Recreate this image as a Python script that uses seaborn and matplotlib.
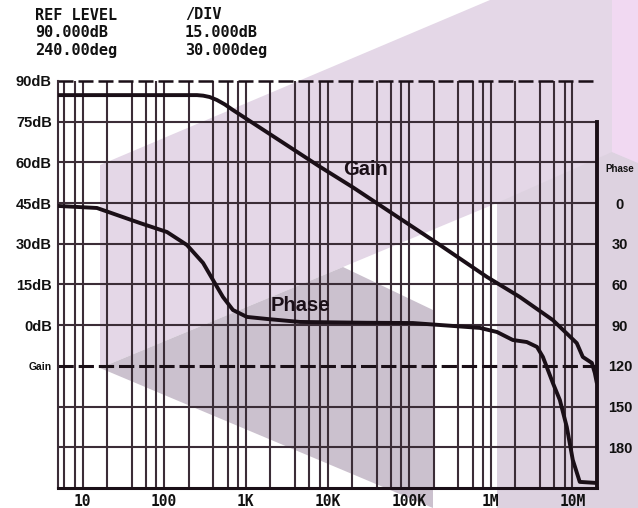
import numpy as np
import pandas as pd
import matplotlib
matplotlib.use('Agg')
import matplotlib.pyplot as plt
from matplotlib.patches import Polygon
from matplotlib.ticker import FixedLocator, FixedFormatter, NullFormatter
import seaborn as sns

sns.set_theme(style="white")
plt.rcParams['font.family'] = ['Liberation Sans', 'DejaVu Sans']

# values
gain_freq = [5, 252, 300, 360, 442, 550, 695, 8070, 20500, 219000, 896000,
             2.27e6, 5.75e6, 11.3e6, 13.4e6, 17.3e6, 18.8e6, 19.9e6]
gain_db = [84.8, 84.8, 84.6, 84.1, 83.0, 81.4, 79.3, 58.4, 50.8, 30.3, 17.8,
           10.4, 1.9, -6.6, -11.7, -13.9, -17.6, -21.3]

phase_freq = [5, 15, 50.5, 108, 190, 299, 396, 524, 695, 1030, 1810, 4590,
              30000, 111000, 735000, 1.19e6, 1.86e6, 2.76e6, 3.68e6, 4.35e6,
              5.76e6, 7.01e6, 8.53e6, 10.1e6, 12.3e6, 19.9e6]
phase_deg = [2.1, 3.6, 14.7, 21.3, 30.9, 44.1, 56.7, 69.2, 78.8, 83.9, 85.4, 87.6,
             88.2, 88.4, 92.0, 95.0, 100.9, 102.4, 106.0, 113.4,
             132.6, 145.1, 165.0, 189.3, 205.5, 206.3]

db_levels = [-60, -45, -30, -15, 0, 15, 30, 45, 60, 75, 90]
db_labels = ['', '', '', 'Gain', '0dB', '15dB', '30dB', '45dB', '60dB', '75dB', '90dB']
phase_ticks = [0, 30, 60, 90, 120, 150, 180]
freq_ticks = [10, 100, 1e3, 1e4, 1e5, 1e6, 1e7]
freq_labels = ['10', '100', '1K', '10K', '100K', '1M', '10M']
minor_freqs = [m * 10.0 ** e for e in range(0, 8) for m in (2, 4, 6, 8)]

header = [('REF LEVEL', '/DIV'), ('90.000dB', '15.000dB'), ('240.00deg', '30.000deg')]

W, H = 638, 508
ink = '#1a0f17'
grid_c = '#3b2d37'

fig = plt.figure(figsize=(W / 100, H / 100), dpi=100)
fig.patch.set_facecolor('white')


def px(pts):
    return [(x / W, 1 - y / H) for x, y in pts]


# watermark behind the chart
shapes = [
    ([(100, 165), (490, 0), (638, 0), (638, 508), (497, 508), (497, 203), (343, 267), (100, 368)], '#e4d7e7'),
    ([(497, 203), (612, 152), (638, 163), (638, 508), (497, 508)], '#ddd2e0'),
    ([(612, 0), (638, 0), (638, 163), (612, 152)], '#f1d9f2'),
    ([(100, 368), (343, 267), (433, 310), (433, 508)], '#cbc1ce'),
]
for pts, col in shapes:
    fig.patches.append(Polygon(px(pts), closed=True, facecolor=col, edgecolor='none',
                               transform=fig.transFigure, zorder=-10))

ax = fig.add_axes([58 / W, 1 - 488 / H, 539 / W, 407 / H])
ax.patch.set_alpha(0)
ax.set_xscale('log')
ax.set_xlim(5, 2e7)
ax.set_ylim(-60, 90)

# grid
ax.xaxis.set_major_locator(FixedLocator(freq_ticks))
ax.xaxis.set_major_formatter(FixedFormatter(freq_labels))
ax.xaxis.set_minor_locator(FixedLocator([f for f in minor_freqs if 5 < f < 2e7]))
ax.xaxis.set_minor_formatter(NullFormatter())
ax.grid(axis='x', which='both', color=grid_c, lw=1.5)
for lv in db_levels:
    if lv in (-60, -15, 90):
        continue
    ax.axhline(lv, color=grid_c, lw=1.5, zorder=1)
ax.axhline(-15, color=ink, lw=2.2, dashes=(5, 1.6), zorder=2)
ax.axhline(90, color=ink, lw=1.8, dashes=(6, 2), zorder=2, clip_on=False)

ax.spines['top'].set_visible(False)
ax.spines['left'].set_color(grid_c)
ax.spines['left'].set_linewidth(1.5)
ax.spines['bottom'].set_color(ink)
ax.spines['bottom'].set_linewidth(2.2)
ax.spines['right'].set_color(ink)
ax.spines['right'].set_linewidth(2.8)
ax.spines['right'].set_bounds(-60, 75)

ax.set_yticks(db_levels)
ax.set_yticklabels(db_labels)
ax.tick_params(axis='y', length=0, pad=4.5)
ax.tick_params(axis='x', which='major', direction='out', length=3, width=1.5,
               color=ink, pad=1.5)
ax.tick_params(axis='x', which='minor', length=0)
for t in ax.get_yticklabels():
    t.set_fontweight('bold')
    t.set_fontsize(7.5 if t.get_text() == 'Gain' else 10.5)
    t.set_color('#111111')
for t in ax.get_xticklabels():
    t.set_fontfamily('DejaVu Sans Mono')
    t.set_fontweight('bold')
    t.set_fontsize(10.5)
    t.set_color('#111111')

sns.lineplot(x=gain_freq, y=gain_db, ax=ax, color=ink, lw=2.8, zorder=5)
ax.text(29600, 57.2, 'Gain', ha='center', va='center', fontsize=14.5,
        fontweight='bold', color=ink)
ax.text(4600, 7.4, 'Phase', ha='center', va='center', fontsize=14.5,
        fontweight='bold', color=ink)

ax2 = ax.twinx()
ax2.patch.set_alpha(0)
for s in ax2.spines.values():
    s.set_visible(False)
ax2.set_ylim(210, -90)
ax2.set_yticks(phase_ticks)
ax2.set_yticklabels([str(p) for p in phase_ticks])
ax2.tick_params(axis='y', length=0, pad=16.5)
for t in ax2.get_yticklabels():
    t.set_fontweight('bold')
    t.set_fontsize(10.5)
    t.set_ha('center')
    t.set_color('#111111')
ax2.grid(False)
sns.lineplot(x=phase_freq, y=phase_deg, ax=ax2, color=ink, lw=2.8, zorder=5)
ax2.text(1.043, -25, 'Phase', transform=ax2.get_yaxis_transform(), ha='center',
         va='center', fontsize=7, fontweight='bold', color='#111111')
ax2.set_ylabel('')
ax.set_xlabel('')

# instrument header
for i, (left, right) in enumerate(header):
    y = 1 - (15 + 17.5 * i) / H
    fig.text(35 / W, y, left, ha='left', va='center', fontsize=11,
             fontfamily='DejaVu Sans Mono', fontweight='bold', color='#111111')
    fig.text(185 / W, y, right, ha='left', va='center', fontsize=11,
             fontfamily='DejaVu Sans Mono', fontweight='bold', color='#111111')

fig.savefig('out.png', dpi=100)
